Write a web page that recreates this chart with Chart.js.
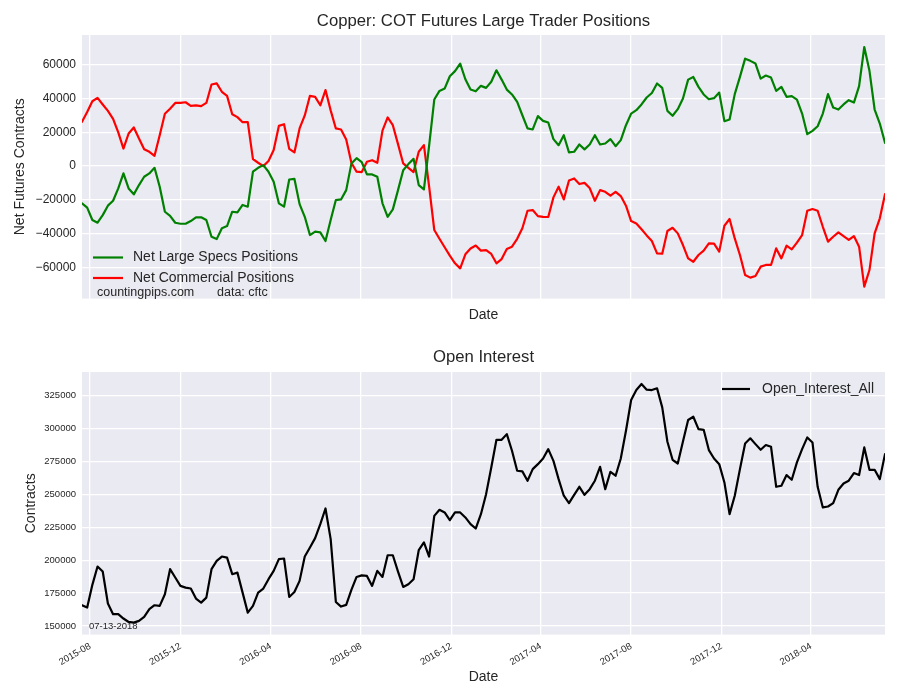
<!DOCTYPE html>
<html><head><meta charset="utf-8">
<script src="https://cdn.jsdelivr.net/npm/chart.js@4.4.1/dist/chart.umd.min.js"></script>
<style>
html,body{margin:0;padding:0;background:#fff;width:900px;height:700px;overflow:hidden}
canvas{position:absolute;left:0}
#top{top:0}
#bot{top:340px}
</style></head>
<body>
<canvas id="top" width="900" height="340"></canvas>
<canvas id="bot" width="900" height="360"></canvas>
<script>
// ---------------- DATA ----------------
const startDate = Date.UTC(2015, 6, 21); // first weekly report (Tuesday)
const WEEK = 7 * 24 * 3600 * 1000;

const largeSpecs = [
  -22000, -24600, -31900, -33500, -29000, -23400, -20500, -13200, -4300, -13200,
  -16700, -11200, -6300, -4300, -1000, -12200, -27000, -29400, -33500, -34100,
  -34100, -32500, -30300, -30300, -31900, -41800, -43200, -36800, -35500, -27000,
  -27400, -23000, -24000, -3300, -1000, 600, -3300, -9300, -22000, -24000,
  -7900, -7500, -22500, -30000, -40800, -38800, -39200, -44300, -31900, -20100,
  -19700, -14200, 1500, 4700, 2300, -4900, -4900, -6300, -22000, -30000,
  -25600, -14200, -2400, 1200, 4300, -11200, -13800, 12000, 39400, 44500,
  45900, 53200, 56200, 60700, 51400, 45300, 44300, 47500, 46300, 49900,
  56700, 51200, 45300, 42400, 38000, 30100, 22300, 21700, 29600, 26800,
  25800, 16000, 12400, 18300, 8100, 8500, 12800, 9900, 12800, 18300,
  12800, 13400, 16000, 11800, 15400, 24200, 31100, 33100, 36500, 40600,
  43300, 48900, 46300, 32700, 29800, 33700, 40000, 51200, 52800, 46900,
  42400, 39600, 40200, 43500, 26600, 27600, 42600, 52800, 63600, 62300,
  60700, 51800, 53600, 52400, 44500, 46900, 41000, 41400, 39400, 31100,
  18900, 20900, 23600, 31100, 42600, 34700, 33500, 36500, 39000, 37600,
  47300, 70500, 56400, 33500, 25200, 13800
];

const commercial = [
  26200, 32000, 38400, 40400, 36500, 32700, 28000, 20000, 10400, 19300,
  22900, 16400, 10000, 8500, 6100, 18300, 31000, 34000, 37400, 37400,
  37800, 35700, 35900, 35500, 37400, 48300, 49000, 44000, 41600, 30700,
  29000, 26000, 26000, 4100, 2000, 0, 3000, 9500, 23800, 24800,
  10200, 8100, 22300, 30000, 41600, 41000, 36000, 45000, 33000, 22300,
  21700, 15800, 2000, -3300, -3500, 2600, 3500, 2000, 21000, 28800,
  24200, 13000, 1600, -1000, -3500, 8500, 12400, -12000, -37800, -43000,
  -48000, -53000, -57500, -60500, -52200, -48700, -47000, -50000, -49700, -52000,
  -57500, -55000, -49000, -47700, -43000, -36800, -26400, -26000, -29600, -30000,
  -30100, -18500, -12200, -19700, -8500, -7300, -10600, -9900, -13000, -20500,
  -14200, -15200, -17500, -15200, -17700, -23400, -32500, -33900, -37400, -41000,
  -44300, -51600, -51800, -38400, -36500, -39800, -46700, -54600, -56600, -52600,
  -50000, -45700, -45900, -50600, -35300, -31300, -42800, -52600, -64400, -66000,
  -65000, -59500, -58500, -58500, -48700, -54600, -47100, -49300, -45300, -40800,
  -26400, -25400, -26400, -35900, -44700, -41800, -39200, -41400, -43700, -41400,
  -47700, -71300, -61500, -39800, -30900, -16600
];

const openInterest = [
  165800, 164000, 181300, 195200, 191400, 167100, 159000, 159000, 155700, 153100,
  152600, 153900, 156900, 162800, 165800, 165300, 174200, 193200, 186900, 180500,
  179200, 178500, 170900, 167800, 171600, 193200, 199500, 202800, 202000, 189400,
  190600, 175400, 160200, 165300, 175400, 178500, 185600, 191900, 200800, 201300,
  172100, 175900, 184300, 202800, 209700, 216800, 227400, 239300, 216000, 168300,
  164800, 166100, 177500, 187300, 188500, 188100, 180500, 191900, 187300, 203800,
  203800, 191400, 179700, 181800, 185600, 207600, 213500, 202800, 233700, 238300,
  236300, 230400, 236300, 236300, 232500, 227400, 224100, 235000, 250200, 270500,
  291500, 291500, 295800, 283200, 268000, 267500, 260400, 269200, 273000, 277300,
  284400, 275500, 261600, 249000, 243400, 249700, 255800, 249700, 254000, 260400,
  271000, 254000, 267200, 264200, 277300, 298400, 321700, 329300, 333900, 329600,
  329300, 330600, 316100, 290000, 276300, 273500, 290200, 306500, 309000, 299600,
  299100, 283700, 277300, 273000, 259100, 235000, 249000, 269200, 288700, 292600,
  288200, 283900, 287500, 286200, 255800, 256600, 264700, 261100, 274300, 284400,
  293300, 289500, 255800, 240100, 240800, 243400, 253500, 258300, 260400, 266200,
  264700, 285700, 268700, 268700, 261600, 280600
];

const dates = largeSpecs.map((_, i) => startDate + i * WEEK);

const xTickLabels = ['2015-08', '2015-12', '2016-04', '2016-08', '2016-12', '2017-04', '2017-08', '2017-12', '2018-04'];
const xTickValues = xTickLabels.map(s => Date.UTC(+s.slice(0, 4), +s.slice(5, 7) - 1, 1));
const posTicks = [-60000, -40000, -20000, 0, 20000, 40000, 60000];
const oiTicks = [150000, 175000, 200000, 225000, 250000, 275000, 300000, 325000];

// ---------------- STYLE ----------------
const FONT = '"Liberation Sans", Arial, Helvetica, sans-serif';
const TXT = '#262626';
const GRID = '#FFFFFF';
const PLOTBG = '#EAEAF2';

const decor = {
  id: 'decor',
  beforeDraw(chart) {
    const {ctx, chartArea: a} = chart;
    ctx.save();
    ctx.fillStyle = PLOTBG;
    ctx.fillRect(a.left, a.top, a.right - a.left, a.bottom - a.top);
    ctx.restore();
  },
  afterDraw(chart, args, opts) {
    const ctx = chart.ctx;
    const a = chart.chartArea;
    ctx.save();
    ctx.textBaseline = 'middle';
    if (opts.title) {
      ctx.font = opts.title.size + 'px ' + FONT;
      ctx.fillStyle = TXT;
      ctx.textAlign = 'center';
      ctx.fillText(opts.title.text, (a.left + a.right) / 2, opts.title.y);
    }
    (opts.texts || []).forEach(t => {
      ctx.font = t.size + 'px ' + FONT;
      ctx.fillStyle = TXT;
      ctx.textAlign = 'left';
      ctx.fillText(t.text, t.x, t.y);
    });
    if (opts.legend) {
      const L = opts.legend;
      chart.data.datasets.forEach((ds, i) => {
        const y = L.y + i * L.dy;
        ctx.strokeStyle = ds.borderColor;
        ctx.lineWidth = ds.borderWidth;
        ctx.beginPath();
        ctx.moveTo(L.x1, y);
        ctx.lineTo(L.x2, y);
        ctx.stroke();
        ctx.font = L.size + 'px ' + FONT;
        ctx.fillStyle = TXT;
        ctx.textAlign = 'left';
        ctx.fillText(ds.label, L.tx, y);
      });
    }
    ctx.restore();
  }
};

function xAxis(showLabels, axisHeight, titlePadBottom) {
  return {
    type: 'linear',
    min: dates[0],
    max: dates[dates.length - 1],
    afterBuildTicks: s => { s.ticks = xTickValues.map(v => ({value: v})); },
    afterFit: s => { s.height = axisHeight; },
    grid: {color: GRID, lineWidth: 1.3, drawTicks: false},
    border: {display: false},
    ticks: {
      display: showLabels, autoSkip: false, minRotation: 30, maxRotation: 30,
      padding: 6, color: TXT, font: {family: FONT, size: 9.5},
      callback: (v, i) => xTickLabels[i]
    },
    title: {display: true, text: 'Date', color: TXT, font: {family: FONT, size: 14},
            padding: {top: 0, bottom: titlePadBottom}}
  };
}

function yAxis(min, max, ticks, fontSize, title, titlePadTop) {
  return {
    min: min, max: max,
    afterBuildTicks: s => { s.ticks = ticks.map(v => ({value: v})); },
    afterFit: s => { s.width = 82; },
    grid: {color: GRID, lineWidth: 1.3, drawTicks: false},
    border: {display: false},
    ticks: {color: TXT, padding: 6, font: {family: FONT, size: fontSize},
            callback: v => (v < 0 ? '\u2212' + Math.abs(v) : String(v))},
    title: {display: true, text: title, color: TXT, font: {family: FONT, size: 14},
            padding: {top: titlePadTop, bottom: 0}}
  };
}

const lineDs = (label, values, color) => ({
  label: label,
  data: values.map((v, i) => ({x: dates[i], y: v})),
  borderColor: color,
  backgroundColor: color,
  borderWidth: 2.2,
  pointRadius: 0,
  tension: 0,
  fill: false,
  borderJoinStyle: 'round',
  borderCapStyle: 'round'
});

new Chart(document.getElementById('top'), {
  type: 'line',
  data: {datasets: [
    lineDs('Net Large Specs Positions', largeSpecs, '#008000'),
    lineDs('Net Commercial Positions', commercial, '#FF0000')
  ]},
  options: {
    responsive: false, animation: false, devicePixelRatio: 1,
    layout: {padding: {top: 35, left: 0, right: 15, bottom: 0}},
    scales: {
      x: xAxis(false, 41.4, 16.6),
      y: yAxis(-78400, 77600, posTicks, 12, 'Net Futures Contracts', 11.6)
    },
    plugins: {
      legend: {display: false},
      title: {display: false},
      tooltip: {enabled: false},
      decor: {
        title: {text: 'Copper: COT Futures Large Trader Positions', size: 16.7, y: 21},
        texts: [
          {text: 'countingpips.com', x: 97, y: 292.5, size: 12.5},
          {text: 'data: cftc', x: 217, y: 292.5, size: 12.5}
        ],
        legend: {x1: 93, x2: 123, tx: 133, y: 257.5, dy: 20.5, size: 14}
      }
    }
  },
  plugins: [decor]
});

new Chart(document.getElementById('bot'), {
  type: 'line',
  data: {datasets: [
    lineDs('Open_Interest_All', openInterest, '#000000')
  ]},
  options: {
    responsive: false, animation: false, devicePixelRatio: 1,
    layout: {padding: {top: 32, left: 0, right: 15, bottom: 0}},
    scales: {
      x: xAxis(true, 65.4, 14.6),
      y: yAxis(143500, 343000, oiTicks, 9.5, 'Contracts', 22.6)
    },
    plugins: {
      legend: {display: false},
      title: {display: false},
      tooltip: {enabled: false},
      decor: {
        title: {text: 'Open Interest', size: 16.7, y: 17},
        texts: [
          {text: '07-13-2018', x: 89, y: 286.7, size: 9.5}
        ],
        legend: {x1: 722, x2: 750, tx: 762, y: 49, dy: 20, size: 14}
      }
    }
  },
  plugins: [decor]
});
</script>
</body></html>
